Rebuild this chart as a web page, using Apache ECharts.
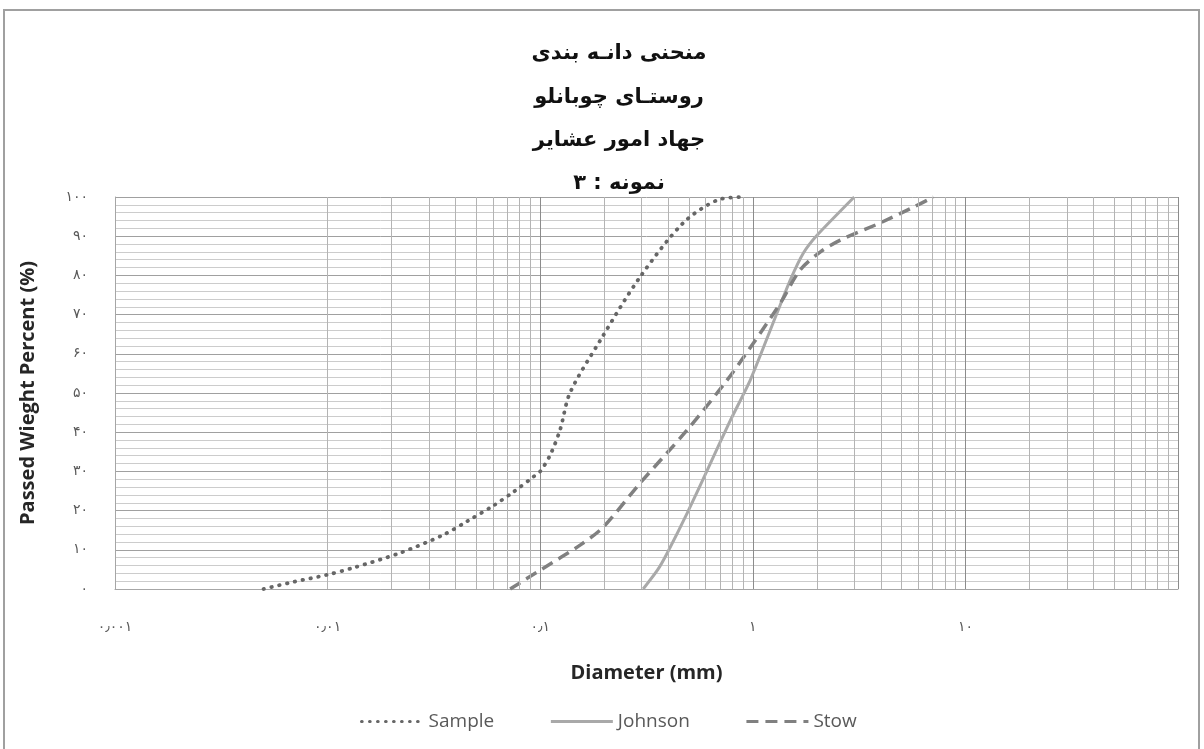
<!DOCTYPE html>
<html><head><meta charset="utf-8">
<script src="https://cdn.jsdelivr.net/npm/echarts/dist/echarts.min.js"></script>
<style>html,body{margin:0;padding:0;background:#fff}#c{width:1204px;height:749px}</style>
</head><body><div id="c"></div><script>
// ---- data ----
const titleLines = ['منحنی دانـه بندی', 'روستـای چوبانلو', 'جهاد امور عشایر', 'نمونه : ۳'];
const xTickValues = [0.001, 0.01, 0.1, 1, 10, 100];
const xTickLabels = ['۰٫۰۰۱', '۰٫۰۱', '۰٫۱', '۱', '۱۰', ''];
const yTickLabels = ['۰', '۱۰', '۲۰', '۳۰', '۴۰', '۵۰', '۶۰', '۷۰', '۸۰', '۹۰', '۱۰۰'];
const seriesNames = ['Sample', 'Johnson', 'Stow'];

const sampleD = [0.005, 0.0069, 0.0099, 0.0132, 0.0219, 0.035, 0.0454, 0.06, 0.0746, 0.0927, 0.1, 0.111, 0.124, 0.138, 0.192, 0.295, 0.471, 0.68, 0.9];
const sampleP = [0, 1.8, 3.6, 5.4, 9.2, 13.8, 17.3, 21.2, 24.7, 28.6, 30, 34, 40.6, 50, 63.5, 79.6, 93.4, 99.2, 100];

const johnsonD = [0.305, 0.356, 0.396, 0.492, 0.631, 0.784, 0.973, 1.30, 1.50, 1.73, 2.01, 3.0];
const johnsonP = [0, 4.8, 9.2, 19.4, 32, 43, 53.3, 70.4, 78.8, 85.7, 90.3, 100];

const stowD = [0.0722, 0.1, 0.154, 0.198, 0.295, 0.492, 0.75, 1.0, 1.35, 1.67, 2.08, 2.58, 3.98, 5.69, 7.07];
const stowP = [0, 4.8, 11.2, 15.8, 27, 40.6, 53, 62.5, 73, 81.4, 86, 89, 93.4, 97.4, 100];

// ---- build ----
const zip = (a, b) => a.map((v, i) => [v, b[i]]);
const minorX = [];
xTickValues.slice(0, -1).forEach(d => { for (let k = 2; k <= 9; k++) minorX.push(+(d * k).toPrecision(3)); });

const titleTops = [38, 82, 125, 168];
const chart = echarts.init(document.getElementById('c'));
chart.setOption({
  animation: false,
  backgroundColor: '#fff',
  title: titleLines.map((t, i) => ({
    text: t, left: 614, top: titleTops[i], textAlign: 'center',
    textStyle: { fontFamily: 'DejaVu Sans', fontWeight: 'bold', fontSize: 21, color: '#111' }
  })),
  graphic: [{
    type: 'rect', shape: { x: 4, y: 10, width: 1195, height: 745 },
    style: { fill: 'none', stroke: '#a0a0a0', lineWidth: 2 }, z: 100, silent: true
  }],
  grid: { left: 115, right: 26, top: 197, bottom: 160, containLabel: false },
  legend: {
    data: seriesNames, left: 355, top: 707, itemWidth: 62, itemHeight: 14, itemGap: 55,
    itemStyle: { opacity: 0 },
    lineStyle: { width: 3.2 },
    textStyle: { fontFamily: 'Open Sans', fontSize: 19, color: '#595959' }
  },
  xAxis: {
    type: 'log', logBase: 10, min: 0.001, max: 100,
    name: 'Diameter (mm)', nameLocation: 'middle', nameGap: 74,
    nameTextStyle: { fontFamily: 'Open Sans', fontWeight: 'bold', fontSize: 20, color: '#262626' },
    axisLine: { show: true, lineStyle: { color: '#a6a6a6', width: 1 } },
    axisTick: { show: false },
    axisLabel: {
      margin: 31, fontFamily: 'DejaVu Sans', fontSize: 14, color: '#595959',
      formatter: v => { const i = xTickValues.findIndex(t => Math.abs(Math.log10(t) - Math.log10(v)) < 1e-6); return i >= 0 ? xTickLabels[i] : ''; }
    },
    splitLine: { show: true, lineStyle: { color: '#8c8c8c', width: 1 } }
  },
  yAxis: {
    type: 'value', min: 0, max: 100, interval: 10,
    name: 'Passed Wieght Percent (%)', nameLocation: 'middle', nameGap: 77, nameRotate: 90,
    nameTextStyle: { fontFamily: 'Open Sans', fontWeight: 'bold', fontSize: 20, color: '#262626' },
    axisLine: { show: true, lineStyle: { color: '#a6a6a6', width: 1 } },
    axisTick: { show: false },
    axisLabel: {
      margin: 27, fontFamily: 'DejaVu Sans', fontSize: 14, color: '#595959',
      formatter: v => yTickLabels[Math.round(v / 10)]
    },
    splitLine: { show: true, lineStyle: { color: '#a0a0a0', width: 1 } },
    minorTick: { show: false, splitNumber: 5 },
    minorSplitLine: { show: true, lineStyle: { color: '#cccccc', width: 1 } }
  },
  series: [
    {
      name: 'grid', type: 'line', data: [], silent: true, z: 1,
      markLine: {
        silent: true, symbol: ['none', 'none'], label: { show: false },
        lineStyle: { color: '#b4b4b4', width: 1, type: 'solid' },
        emphasis: { disabled: true },
        data: minorX.map(v => ({ xAxis: v }))
      }
    },
    {
      name: seriesNames[0], type: 'line', data: zip(sampleD, sampleP), z: 5,
      showSymbol: false, symbol: 'none', smooth: 0.3,
      lineStyle: { color: '#666666', width: 3.8, type: [0.5, 7.5], cap: 'round' },
      itemStyle: { color: '#666666' }
    },
    {
      name: seriesNames[1], type: 'line', data: zip(johnsonD, johnsonP), z: 4,
      showSymbol: false, symbol: 'none', smooth: 0.2,
      lineStyle: { color: '#a9a9a9', width: 3, type: 'solid' },
      itemStyle: { color: '#a9a9a9' }
    },
    {
      name: seriesNames[2], type: 'line', data: zip(stowD, stowP), z: 4,
      showSymbol: false, symbol: 'none', smooth: 0.3,
      lineStyle: { color: '#808080', width: 3.5, type: [12, 7] },
      itemStyle: { color: '#808080' }
    }
  ]
});
</script></body></html>
